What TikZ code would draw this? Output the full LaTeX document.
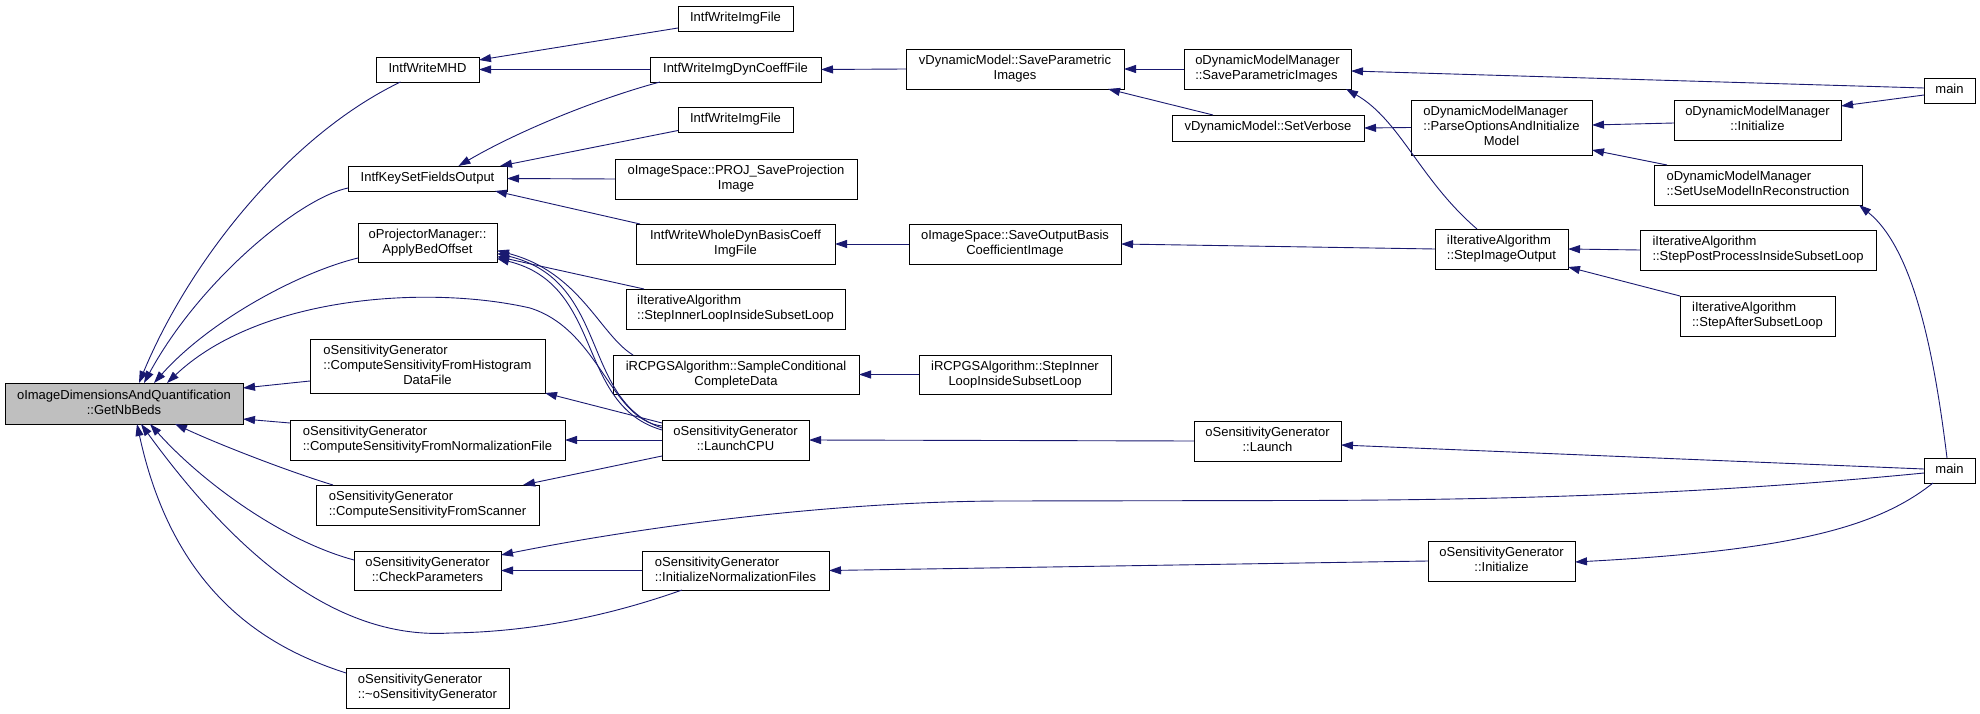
\documentclass[tikz,border=0pt]{standalone}
\usepackage{fontspec}
\setmainfont{Liberation Sans}
\usetikzlibrary{arrows.meta,calc}
\definecolor{edgecol}{HTML}{191970}
\definecolor{rootgray}{HTML}{BFBFBF}
\newcommand{\Cs}[1]{\begin{tabular}{@{}c@{}}#1\end{tabular}}
\newcommand{\Ls}[1]{\begin{tabular}{@{}l@{}}#1\end{tabular}}
\newcommand{\Lc}[1]{\multicolumn{1}{@{}c@{}}{#1}}
\tikzset{
  fnbox/.style={draw=black, line width=0.8pt, fill=white, inner sep=0pt, outer sep=0pt,
    font=\fontsize{13}{15}\selectfont},
  call/.style={draw=edgecol, line width=0.9pt, -{Triangle[length=12pt,width=8pt]}}
}
\begin{document}
\begin{tikzpicture}[x=1pt,y=-1pt]
\useasboundingbox (0,0) rectangle (1980,714);
% column 1
\node[fnbox,fill=rootgray,minimum width=238pt,minimum height=41pt] (root) at (124,403.5) {\Cs{oImageDimensionsAndQuantification\\::GetNbBeds}};
% column 2
\node[fnbox,minimum width=103pt,minimum height=25pt] (MHD) at (427.5,69.5) {\Cs{IntfWriteMHD}};
\node[fnbox,minimum width=159pt,minimum height=25pt] (KeySet) at (427.5,178.5) {\Cs{IntfKeySetFieldsOutput}};
\node[fnbox,minimum width=139pt,minimum height=39pt] (Bed) at (427.5,242.5) {\Cs{oProjectorManager::\\ApplyBedOffset}};
\node[fnbox,minimum width=235pt,minimum height=54pt] (Hist) at (427.5,366) {\Ls{oSensitivityGenerator\\::ComputeSensitivityFromHistogram\\\Lc{DataFile}}};
\node[fnbox,minimum width=275pt,minimum height=40pt] (Norm) at (427.5,440) {\Ls{oSensitivityGenerator\\::ComputeSensitivityFromNormalizationFile}};
\node[fnbox,minimum width=223pt,minimum height=40pt] (Scan) at (427.5,505) {\Ls{oSensitivityGenerator\\::ComputeSensitivityFromScanner}};
\node[fnbox,minimum width=147pt,minimum height=39pt] (Check) at (427.5,570.5) {\Cs{oSensitivityGenerator\\::CheckParameters}};
\node[fnbox,minimum width=163pt,minimum height=40pt] (Destr) at (427.5,688) {\Ls{oSensitivityGenerator\\::\textasciitilde oSensitivityGenerator}};
% column 3
\node[fnbox,minimum width=115pt,minimum height=25pt] (ImgA) at (735.5,18.5) {\Cs{IntfWriteImgFile}};
\node[fnbox,minimum width=171pt,minimum height=25pt] (DynCoeff) at (735.5,69.5) {\Cs{IntfWriteImgDynCoeffFile}};
\node[fnbox,minimum width=115pt,minimum height=25pt] (ImgB) at (735.5,119.5) {\Cs{IntfWriteImgFile}};
\node[fnbox,minimum width=242pt,minimum height=40pt] (Proj) at (736,179) {\Cs{oImageSpace::PROJ\_SaveProjection\\Image}};
\node[fnbox,minimum width=199pt,minimum height=40pt] (Whole) at (735.5,244) {\Cs{IntfWriteWholeDynBasisCoeff\\ImgFile}};
\node[fnbox,minimum width=219pt,minimum height=40pt] (StepInner) at (735.5,309) {\Ls{iIterativeAlgorithm\\::StepInnerLoopInsideSubsetLoop}};
\node[fnbox,minimum width=246pt,minimum height=39pt] (Sample) at (736,374.5) {\Cs{iRCPGSAlgorithm::SampleConditional\\CompleteData}};
\node[fnbox,minimum width=147pt,minimum height=40pt] (LaunchCPU) at (735.5,440) {\Cs{oSensitivityGenerator\\::LaunchCPU}};
\node[fnbox,minimum width=187pt,minimum height=39pt] (InitNorm) at (735.5,570.5) {\Ls{oSensitivityGenerator\\::InitializeNormalizationFiles}};
% column 4
\node[fnbox,minimum width=218pt,minimum height=40pt] (SaveParam) at (1015,69) {\Cs{vDynamicModel::SaveParametric\\Images}};
\node[fnbox,minimum width=212pt,minimum height=40pt] (SaveOut) at (1015,244) {\Cs{oImageSpace::SaveOutputBasis\\CoefficientImage}};
\node[fnbox,minimum width=192pt,minimum height=39pt] (RStep) at (1015,374.5) {\Cs{iRCPGSAlgorithm::StepInner\\LoopInsideSubsetLoop}};
% column 5
\node[fnbox,minimum width=167pt,minimum height=40pt] (DMMSave) at (1267.5,69) {\Ls{oDynamicModelManager\\::SaveParametricImages}};
\node[fnbox,minimum width=192pt,minimum height=26pt] (Verb) at (1268,128) {\Cs{vDynamicModel::SetVerbose}};
\node[fnbox,minimum width=147pt,minimum height=40pt] (Launch) at (1267.5,441) {\Cs{oSensitivityGenerator\\::Launch}};
% column 6
\node[fnbox,minimum width=181pt,minimum height=55pt] (Parse) at (1501.5,127.5) {\Ls{oDynamicModelManager\\::ParseOptionsAndInitialize\\\Lc{Model}}};
\node[fnbox,minimum width=133pt,minimum height=40pt] (StepImg) at (1501.5,249) {\Ls{iIterativeAlgorithm\\::StepImageOutput}};
\node[fnbox,minimum width=147pt,minimum height=40pt] (SInit) at (1501.5,561) {\Cs{oSensitivityGenerator\\::Initialize}};
% column 7
\node[fnbox,minimum width=167pt,minimum height=40pt] (DMMInit) at (1757.5,120) {\Cs{oDynamicModelManager\\::Initialize}};
\node[fnbox,minimum width=208pt,minimum height=40pt] (SetUse) at (1758,185) {\Ls{oDynamicModelManager\\::SetUseModelInReconstruction}};
\node[fnbox,minimum width=236pt,minimum height=40pt] (Post) at (1758,250) {\Ls{iIterativeAlgorithm\\::StepPostProcessInsideSubsetLoop}};
\node[fnbox,minimum width=155pt,minimum height=40pt] (After) at (1757.5,316) {\Ls{iIterativeAlgorithm\\::StepAfterSubsetLoop}};
% column 8
\node[fnbox,minimum width=51pt,minimum height=25pt] (mainA) at (1949.5,90.5) {\Cs{main}};
\node[fnbox,minimum width=51pt,minimum height=25pt] (mainB) at (1949.5,470.5) {\Cs{main}};
% edges into root
\draw[call] ($(MHD.south)+(-27,0)$) .. controls (290,135) and (190,260) .. ($(root.north)+(15,0)$);
\draw[call] ($(KeySet.west)+(0,9.5)$) .. controls (300,198) and (200,280) .. ($(root.north)+(20,0)$);
\draw[call] ($(Bed.west)+(0,15.5)$) .. controls (300,272) and (210,320) .. ($(root.north)+(30,0)$);
\draw[call] ($(LaunchCPU.west)+(0,-14)$) .. controls (610,420) and (600,330) .. (530,308) .. controls (430,285) and (260,295) .. ($(root.north)+(43,0)$);
\draw[call] ($(Hist.west)+(0,15)$) -- ($(root.east)+(0,-15.5)$);
\draw[call] ($(Norm.west)+(0,-17)$) -- ($(root.east)+(0,15.5)$);
\draw[call] ($(Scan.north west)+(17,0)$) .. controls (290,472) and (220,445) .. ($(root.south)+(51,0)$);
\draw[call] ($(Check.west)+(0,-10.5)$) .. controls (280,540) and (200,480) .. ($(root.south)+(26,0)$);
\draw[call] ($(InitNorm.south west)+(40,0)$) .. controls (620,612) and (540,632) .. (450,633) .. controls (340,640) and (240,560) .. ($(root.south)+(17,0)$);
\draw[call] ($(Destr.west)+(0,-15)$) .. controls (275,650) and (175,600) .. ($(root.south)+(13,0)$);
% edges into column 2
\draw[call] ($(ImgA.west)+(0,9.5)$) -- ($(MHD.east)+(0,-9.5)$);
\draw[call] (DynCoeff.west) -- (MHD.east);
\draw[call] ($(DynCoeff.south west)+(10,0)$) .. controls (600,98) and (520,130) .. ($(KeySet.north)+(31,0)$);
\draw[call] ($(ImgB.west)+(0,11)$) -- ($(KeySet.north east)+(-7,0)$);
\draw[call] (Proj.west) -- (KeySet.east);
\draw[call] ($(Whole.north west)+(4,0)$) -- ($(KeySet.south east)+(-12,0)$);
\draw[call] ($(StepInner.north west)+(18,0)$) -- ($(Bed.east)+(0,14)$);
\draw[call] ($(Sample.north west)+(20,0)$) .. controls (600,335) and (580,272) .. ($(Bed.east)+(0,8)$);
\draw[call] ($(LaunchCPU.west)+(0,-12)$) .. controls (580,400) and (610,280) .. ($(Bed.east)+(0,11)$);
\draw[call] ($(LaunchCPU.west)+(0,-10)$) .. controls (575,405) and (605,285) .. ($(Bed.east)+(0,16)$);
\draw[call] ($(LaunchCPU.north west)+(0,3)$) -- (Hist.south east);
\draw[call] (LaunchCPU.west) -- (Norm.east);
\draw[call] ($(LaunchCPU.south west)+(0,-4)$) -- ($(Scan.north east)+(-16,0)$);
\draw[call] (InitNorm.west) -- (Check.east);
\draw[call] ($(mainB.west)+(0,2.5)$) .. controls (1750,490) and (1560,500) .. (1300,500.5) -- (1000,501) .. controls (800,502) and (600,535) .. ($(Check.north east)+(0,4)$);
% edges into column 3
\draw[call] (SaveParam.west) -- (DynCoeff.east);
\draw[call] (SaveOut.west) -- (Whole.east);
\draw[call] (RStep.west) -- (Sample.east);
\draw[call] (Launch.west) -- (LaunchCPU.east);
\draw[call] (SInit.west) -- (InitNorm.east);
% edges into column 4
\draw[call] (DMMSave.west) -- (SaveParam.east);
\draw[call] ($(Verb.north west)+(41,0)$) -- ($(SaveParam.south east)+(-16,0)$);
\draw[call] (StepImg.west) -- (SaveOut.east);
% edges into column 5
\draw[call] ($(mainB.west)+(0,-1.5)$) -- ($(Launch.east)+(0,4)$);
\draw[call] ($(mainA.west)+(0,-2.5)$) -- ($(DMMSave.east)+(0,2)$);
\draw[call] ($(StepImg.north west)+(42,0)$) .. controls (1420,180) and (1400,120) .. ($(DMMSave.south east)+(-5,0)$);
\draw[call] (Parse.west) -- (Verb.east);
% edges into column 6
\draw[call] ($(DMMInit.west)+(0,3)$) -- ($(Parse.east)+(0,-2.5)$);
\draw[call] ($(SetUse.north west)+(13,0)$) -- ($(Parse.south east)+(0,-5)$);
\draw[call] (Post.west) -- (StepImg.east);
\draw[call] (After.north west) -- ($(StepImg.south east)+(0,-2)$);
\draw[call] ($(mainB.south)+(-16.5,0)$) .. controls (1880,525) and (1800,550) .. ($(SInit.east)+(0,1)$);
% edges into column 7
\draw[call] ($(mainA.west)+(0,4.5)$) -- ($(DMMInit.east)+(0,-14)$);
\draw[call] ($(mainB.north)+(-2.5,0)$) .. controls (1935,360) and (1915,250) .. ($(SetUse.south east)+(-3,0)$);
\end{tikzpicture}
\end{document}
